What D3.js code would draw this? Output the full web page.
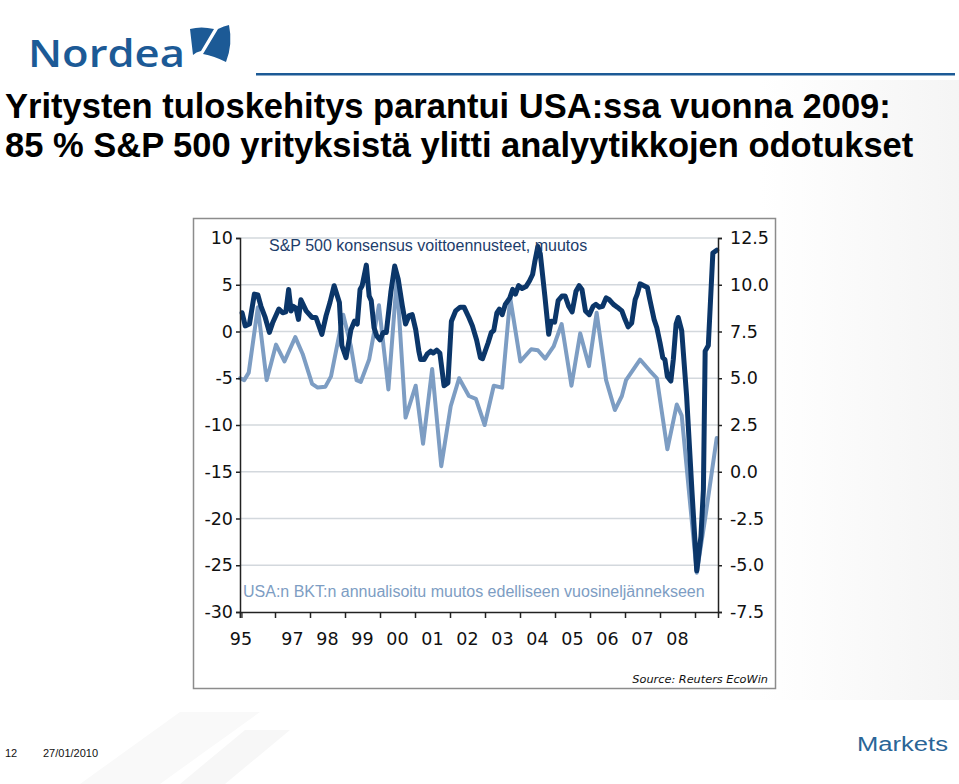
<!DOCTYPE html>
<html>
<head>
<meta charset="utf-8">
<script src="https://cdn.jsdelivr.net/npm/d3@7"></script>
<style>
  html, body { margin: 0; padding: 0; background: #fff; }
  svg { display: block; }
</style>
</head>
<body>
<div id="chart"></div>
<script>
// S&P 500 consensus earnings revisions, change (left axis) - date as decimal year
const spDates = [
  1996.06, 1996.15, 1996.27, 1996.41, 1996.51, 1996.60, 1996.72, 1996.84, 1996.93,
  1997.11, 1997.22, 1997.31, 1997.39, 1997.46, 1997.52, 1997.60, 1997.67, 1997.74, 1997.89,
  1998.06, 1998.17, 1998.34, 1998.46, 1998.57, 1998.69, 1998.84, 1998.91,
  1999.03, 1999.17, 1999.27, 1999.35, 1999.43, 1999.49, 1999.61, 1999.69, 1999.75, 1999.83, 1999.91,
  2000.00, 2000.09, 2000.18, 2000.31, 2000.42, 2000.52, 2000.64, 2000.73, 2000.83, 2000.92,
  2001.02, 2001.11, 2001.16, 2001.26, 2001.35, 2001.45, 2001.52, 2001.62, 2001.71, 2001.83, 2001.94,
  2002.04, 2002.16, 2002.29, 2002.40, 2002.54, 2002.64, 2002.76, 2002.87, 2002.93,
  2003.09, 2003.18, 2003.25, 2003.34, 2003.41, 2003.49, 2003.58, 2003.71, 2003.79, 2003.87, 2003.96,
  2004.06, 2004.17, 2004.27, 2004.36, 2004.42, 2004.51, 2004.58, 2004.71, 2004.82, 2004.89, 2004.99,
  2005.09, 2005.20, 2005.29, 2005.39, 2005.49, 2005.60, 2005.69, 2005.77, 2005.87, 2005.98,
  2006.09, 2006.17, 2006.27, 2006.36, 2006.46, 2006.55, 2006.67, 2006.78, 2006.91,
  2007.00, 2007.09, 2007.19, 2007.29, 2007.35, 2007.43, 2007.54, 2007.64, 2007.71, 2007.83, 2007.91,
  2008.00, 2008.08, 2008.14, 2008.21, 2008.31, 2008.38, 2008.46, 2008.52, 2008.62, 2008.76, 2008.91,
  2009.05, 2009.17, 2009.24, 2009.29, 2009.38, 2009.51, 2009.62
];
const spValues = [
  2.0, 0.6, 0.8, 4.0, 3.9, 2.7, 1.5, -0.1, 0.9,
  2.4, 2.0, 2.1, 4.5, 2.2, 2.7, 2.5, 1.3, 3.4, 2.2,
  1.5, 1.5, -0.3, 1.7, 3.1, 4.9, 3.1, -1.5,
  -2.8, 0.2, 1.1, 0.8, 4.5, 4.9, 7.1, 3.8, 3.3, 0.4, -0.5,
  -0.9, -0.1, -0.1, 4.2, 7.0, 5.6, 2.7, 0.8, 1.7, 1.8,
  0.2, -2.1, -3.0, -3.0, -2.4, -2.1, -2.3, -2.0, -2.3, -5.8, -5.5,
  1.1, 2.2, 2.6, 2.6, 1.5, 0.6, -0.9, -2.8, -2.9,
  -1.2, -0.1, 0.1, 2.0, 2.4, 1.8, 2.9, 3.6, 4.5, 4.0, 4.9,
  4.6, 4.8, 5.4, 6.1, 7.4, 9.1, 8.3, 3.8, -0.3, 1.1, 1.0,
  3.3, 3.8, 3.8, 2.7, 2.1, 4.3, 4.9, 4.5, 2.2, 1.8,
  2.7, 2.9, 2.6, 2.7, 3.6, 3.4, 2.9, 2.6, 2.2,
  1.3, 0.5, 0.9, 3.4, 4.0, 5.1, 4.9, 4.7, 3.4, 1.3, 0.4,
  -1.2, -2.8, -3.0, -4.8, -5.3, -3.0, 0.8, 1.5, 0.1, -6.9, -16.9,
  -25.6, -21.9, -16.9, -2.1, -1.5, 8.4, 8.7
];

// USA GDP, annualised change q/q (right axis)
const gdpDates = [
  1996.00, 1996.12, 1996.25, 1996.51, 1996.76, 1996.89, 1997.03, 1997.27, 1997.58, 1997.79,
  1998.06, 1998.22, 1998.44, 1998.60, 1998.95, 1999.17, 1999.33, 1999.45, 1999.69, 1999.97,
  2000.24, 2000.48, 2000.73, 2001.02, 2001.23, 2001.49, 2001.75, 2002.02, 2002.26, 2002.54,
  2002.74, 2002.99, 2003.25, 2003.49, 2003.72, 2004.01, 2004.32, 2004.51, 2004.72, 2004.96,
  2005.19, 2005.47, 2005.72, 2005.97, 2006.19, 2006.46, 2006.71, 2006.91, 2007.03, 2007.43,
  2007.71, 2007.91, 2008.21, 2008.48, 2008.62, 2009.05, 2009.29, 2009.62
];
const gdpValues = [
  5.0, 4.9, 5.3, 8.8, 4.9, 5.8, 6.8, 5.9, 7.2, 6.3,
  4.7, 4.5, 4.55, 5.1, 8.4, 6.7, 4.9, 4.8, 6.0, 8.9,
  4.4, 10.3, 2.9, 4.6, 1.5, 5.5, 0.3, 3.5, 5.0, 4.05,
  3.9, 2.5, 4.6, 4.5, 9.3, 5.9, 6.55, 6.5, 6.05, 6.7,
  7.9, 4.6, 7.4, 5.65, 8.5, 4.9, 3.3, 4.05, 4.9, 6.0,
  5.4, 5.0, 1.2, 3.6, 3.0, -5.4, -2.5, 1.8
];

const leftTicks = [10, 5, 0, -5, -10, -15, -20, -25, -30];
const rightTicks = [12.5, 10, 7.5, 5, 2.5, 0, -2.5, -5, -7.5];
const yearTicks = [1996, 1997, 1998, 1999, 2000, 2001, 2002, 2003, 2004, 2005, 2006, 2007, 2008, 2009];
const yearLabelYears = [1995, 1997, 1998, 1999, 2000, 2001, 2002, 2003, 2004, 2005, 2006, 2007, 2008];
const yearLabels = ['95', '97', '98', '99', '00', '01', '02', '03', '04', '05', '06', '07', '08'];

const title1 = 'Yritysten tuloskehitys parantui USA:ssa vuonna 2009:';
const title2 = '85 % S&P 500 yrityksistä ylitti analyytikkojen odotukset';
const spLabel = 'S&P 500 konsensus voittoennusteet, muutos';
const gdpLabel = 'USA:n BKT:n annualisoitu muutos edelliseen vuosineljännekseen';

const W = 959, H = 784;
const colors = {
  dark: '#0b3669',
  light: '#7d9dc3',
  grid: '#d3d8dd',
  brand: '#1c5a96',
  axis: '#222'
};

const svg = d3.select('#chart').append('svg')
  .attr('width', W).attr('height', H)
  .attr('viewBox', `0 0 ${W} ${H}`);

// background shading
const defs = svg.append('defs');
const g1 = defs.append('linearGradient').attr('id', 'sideShade')
  .attr('x1', '0').attr('x2', '1').attr('y1', '0').attr('y2', '0');
g1.append('stop').attr('offset', '0%').attr('stop-color', '#fff');
g1.append('stop').attr('offset', '100%').attr('stop-color', '#eeeeee');
svg.append('rect').attr('width', W).attr('height', H).attr('fill', '#fff');
svg.append('rect').attr('x', 760).attr('y', 80).attr('width', 199).attr('height', 620)
  .attr('fill', 'url(#sideShade)').attr('opacity', 0.6);
svg.append('polygon').attr('points', '80,784 180,712 260,712 160,784').attr('fill', '#f9f9f9');
svg.append('polygon').attr('points', '180,784 245,730 290,730 225,784').attr('fill', '#f7f7f7');

// header: logo + rule
svg.append('text')
  .attr('x', 28).attr('y', 67)
  .attr('font-family', '"Open Sans", "Liberation Sans", sans-serif')
  .attr('font-weight', 600)
  .attr('font-size', 37)
  .attr('textLength', 157).attr('lengthAdjust', 'spacingAndGlyphs')
  .attr('fill', colors.brand)
  .text('Nordea');
svg.append('path')
  .attr('d', 'M190,29 Q201,26 214,29 L201,51 Q196,52 193,55 Z')
  .attr('fill', colors.brand);
svg.append('path')
  .attr('d', 'M218,29 Q224,26 229,25 Q233,44 226,62 Q214,56 203,54 Z')
  .attr('fill', colors.brand);
svg.append('rect').attr('x', 256).attr('y', 73).attr('width', 699).attr('height', 2.5)
  .attr('fill', colors.brand);

// title
const titleG = svg.append('g')
  .attr('font-family', '"Liberation Sans", Arial, sans-serif')
  .attr('font-weight', 'bold')
  .attr('font-size', 34.5)
  .attr('fill', '#000');
titleG.append('text').attr('x', 5).attr('y', 118).text(title1);
titleG.append('text').attr('x', 5).attr('y', 157).text(title2);

// chart frame
svg.append('rect')
  .attr('x', 193.5).attr('y', 218.5).attr('width', 582).attr('height', 470)
  .attr('fill', '#fff').attr('stroke', '#8c8c8c').attr('stroke-width', 1.5);

const x = d3.scaleLinear().domain([1996, 2009.657]).range([240, 718]);
const yL = d3.scaleLinear().domain([-30, 10]).range([612, 238]);
const yR = d3.scaleLinear().domain([-7.5, 12.5]).range([612, 238]);

const plot = svg.append('g');

// grid
plot.selectAll('.grid').data(leftTicks.filter(d => d !== -30))
  .enter().append('line')
  .attr('class', 'grid')
  .attr('x1', 240).attr('x2', 718)
  .attr('y1', d => yL(d)).attr('y2', d => yL(d))
  .attr('stroke', colors.grid).attr('stroke-width', 1.5);

// lines
const spData = spDates.map((d, i) => ({ t: d, v: spValues[i] }));
const gdpData = gdpDates.map((d, i) => ({ t: d, v: gdpValues[i] }));

plot.append('path')
  .datum(gdpData)
  .attr('fill', 'none')
  .attr('stroke', colors.light)
  .attr('stroke-width', 4)
  .attr('stroke-linejoin', 'round')
  .attr('stroke-linecap', 'round')
  .attr('d', d3.line().x(d => x(d.t)).y(d => yR(d.v)));

plot.append('path')
  .datum(spData)
  .attr('fill', 'none')
  .attr('stroke', colors.dark)
  .attr('stroke-width', 5)
  .attr('stroke-linejoin', 'round')
  .attr('stroke-linecap', 'round')
  .attr('d', d3.line().x(d => x(d.t)).y(d => yL(d.v)));

// axes
const tickFont = '"DejaVu Sans", Verdana, sans-serif';

const leftAxis = plot.append('g')
  .attr('transform', 'translate(240,0)')
  .call(d3.axisLeft(yL).tickValues(leftTicks).tickSize(4).tickPadding(3)
    .tickFormat(d => String(d)));

const rightAxis = plot.append('g')
  .attr('transform', 'translate(718,0)')
  .call(d3.axisRight(yR).tickValues(rightTicks).tickSize(4).tickPadding(8)
    .tickFormat(d => d.toFixed(1)));

const bottomAxis = plot.append('g')
  .attr('transform', 'translate(0,612)')
  .call(d3.axisBottom(x).tickValues(yearTicks).tickSize(6).tickFormat(''));

[leftAxis, rightAxis, bottomAxis].forEach(a => {
  a.select('.domain').attr('stroke', colors.axis).attr('stroke-width', 1.5);
  a.selectAll('.tick line').attr('stroke', colors.axis).attr('stroke-width', 1.5);
  a.selectAll('text')
    .attr('font-family', tickFont)
    .attr('font-size', 17.5)
    .attr('fill', '#111');
});
// extra tick at the axis start
bottomAxis.append('line').attr('x1', 242).attr('x2', 242).attr('y1', 0).attr('y2', 6)
  .attr('stroke', colors.axis).attr('stroke-width', 1.2);

// year labels, mid-year, clamped to the axis start
plot.selectAll('.ylabel').data(yearLabels)
  .enter().append('text')
  .attr('class', 'ylabel')
  .attr('x', (d, i) => Math.max(x(yearLabelYears[i] + 0.5), x.range()[0] + 1))
  .attr('y', 645)
  .attr('text-anchor', 'middle')
  .attr('font-family', tickFont)
  .attr('font-size', 17.5)
  .attr('fill', '#111')
  .text(d => d);

// series labels
plot.append('text')
  .attr('x', 269).attr('y', 251)
  .attr('font-family', '"Liberation Sans", Arial, sans-serif')
  .attr('font-size', 16)
  .attr('fill', '#1d3d6b')
  .text(spLabel);

plot.append('text')
  .attr('x', 243).attr('y', 597)
  .attr('font-family', '"Liberation Sans", Arial, sans-serif')
  .attr('font-size', 16)
  .attr('fill', colors.light)
  .text(gdpLabel);

svg.append('text')
  .attr('x', 768).attr('y', 683)
  .attr('text-anchor', 'end')
  .attr('font-family', tickFont)
  .attr('font-style', 'italic')
  .attr('font-size', 11.3)
  .attr('fill', '#111')
  .text('Source: Reuters EcoWin');

// footer
const foot = svg.append('g')
  .attr('font-family', '"Liberation Sans", Arial, sans-serif')
  .attr('font-size', 11)
  .attr('fill', '#111');
foot.append('text').attr('x', 5).attr('y', 757).text('12');
foot.append('text').attr('x', 43).attr('y', 757).text('27/01/2010');

svg.append('text')
  .attr('x', 857).attr('y', 751)
  .attr('font-family', '"Liberation Sans", Arial, sans-serif')
  .attr('font-size', 20)
  .attr('textLength', 91).attr('lengthAdjust', 'spacingAndGlyphs')
  .attr('fill', '#2a6597')
  .text('Markets');
</script>
</body>
</html>
